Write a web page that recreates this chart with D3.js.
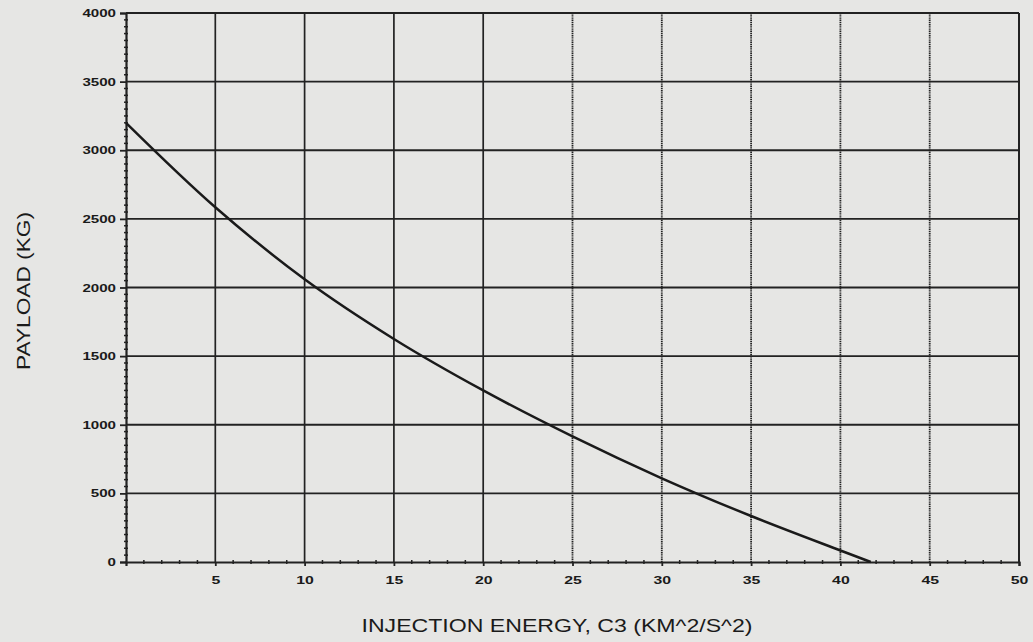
<!DOCTYPE html>
<html>
<head>
<meta charset="utf-8">
<script src="https://cdn.jsdelivr.net/npm/d3@7/dist/d3.min.js"></script>
<style>
  html, body { margin: 0; padding: 0; background: #e6e6e4; }
  svg { display: block; }
  text { font-family: "Liberation Sans", Arial, sans-serif; fill: #1a1a1a; }
</style>
</head>
<body>
<svg id="chart" width="1033" height="642"></svg>
<script>
// ---- data ----
const c3Values = [0, 5, 10, 15, 20, 25, 30, 35, 40, 41.7];
const payloadValues = [3200, 2585, 2060, 1625, 1250, 915, 610, 335, 84, 0];
const xTickValues = [5, 10, 15, 20, 25, 30, 35, 40, 45, 50];
const yTickValues = [0, 500, 1000, 1500, 2000, 2500, 3000, 3500, 4000];
const xTitle = "INJECTION ENERGY, C3 (KM^2/S^2)";
const yTitle = "PAYLOAD (KG)";

const svg = d3.select("#chart");
const pLeft = 126, pRight = 1019, pTop = 13, pBottom = 562;
const x = d3.scaleLinear().domain([0, 50]).range([pLeft, pRight]);
const y = d3.scaleLinear().domain([0, 4000]).range([pBottom, pTop]);
const ink = "#222";

// horizontal grid
svg.append("g").selectAll("line").data(yTickValues.filter(v => v > 0)).join("line")
  .attr("x1", pLeft).attr("x2", pRight)
  .attr("y1", d => y(d)).attr("y2", d => y(d))
  .attr("stroke", ink).attr("stroke-width", 1.8);

// vertical grid
svg.append("g").selectAll("line").data(xTickValues.filter(v => v < 50)).join("line")
  .attr("y1", pTop).attr("y2", pBottom)
  .attr("x1", d => x(d)).attr("x2", d => x(d))
  .attr("stroke", ink).attr("stroke-width", d => d >= 25 ? 1.8 : 1.7)
  .attr("stroke-dasharray", d => d >= 25 ? "1.4,0.8" : null);

// frame right/top
svg.append("line").attr("x1", pRight).attr("x2", pRight).attr("y1", pTop).attr("y2", pBottom)
  .attr("stroke", ink).attr("stroke-width", 2);
svg.append("line").attr("x1", pLeft).attr("x2", pRight).attr("y1", pTop).attr("y2", pTop)
  .attr("stroke", ink).attr("stroke-width", 2);

// y axis
const yAxis = d3.axisLeft(y).tickValues(yTickValues).tickSize(6).tickPadding(4)
  .tickFormat(d3.format("d"));
const gy = svg.append("g").attr("transform", `translate(${pLeft},0)`).call(yAxis);
gy.select(".domain").attr("stroke", ink).attr("stroke-width", 2.2);
gy.selectAll(".tick line").attr("stroke", ink).attr("stroke-width", 1.8);
gy.selectAll(".tick text")
  .attr("font-size", 11).attr("font-weight", "bold").attr("fill", "#1a1a1a")
  .attr("textLength", d => String(d).length * 8.4).attr("lengthAdjust", "spacingAndGlyphs");

// y minor ticks
const yMinor = d3.range(50, 4000, 50).filter(v => v % 500 !== 0);
svg.append("g").selectAll("line").data(yMinor).join("line")
  .attr("x1", pLeft - 2).attr("x2", pLeft + 2)
  .attr("y1", d => y(d)).attr("y2", d => y(d))
  .attr("stroke", ink).attr("stroke-width", 1.5);

// x axis
const xAxis = d3.axisBottom(x).tickValues(xTickValues).tickSize(4).tickPadding(10)
  .tickFormat(d3.format("d"));
const gx = svg.append("g").attr("transform", `translate(0,${pBottom})`).call(xAxis);
gx.select(".domain").attr("stroke", ink).attr("stroke-width", 2.2);
gx.selectAll(".tick line").attr("stroke", ink).attr("stroke-width", 1.8);
gx.selectAll(".tick text")
  .attr("font-size", 11).attr("font-weight", "bold").attr("fill", "#1a1a1a")
  .attr("textLength", d => String(d).length * 8.8).attr("lengthAdjust", "spacingAndGlyphs");

// x minor ticks
const xMinor = d3.range(1, 50, 1).filter(v => v % 5 !== 0);
svg.append("g").selectAll("line").data(xMinor).join("line")
  .attr("y1", pBottom - 2).attr("y2", pBottom + 2)
  .attr("x1", d => x(d)).attr("x2", d => x(d))
  .attr("stroke", ink).attr("stroke-width", 1.5);

// curve
const pts = c3Values.map((c, i) => [c, payloadValues[i]]);
const line = d3.line().x(d => x(d[0])).y(d => y(d[1])).curve(d3.curveCatmullRom.alpha(0.5));
svg.append("path").datum(pts).attr("d", line)
  .attr("fill", "none").attr("stroke", "#1a1a1a").attr("stroke-width", 2.5);

// titles
svg.append("text").attr("x", 557).attr("y", 632).attr("text-anchor", "middle")
  .attr("font-size", 18).attr("textLength", 391).attr("lengthAdjust", "spacingAndGlyphs")
  .text(xTitle);
svg.append("text").attr("transform", "translate(30,291) rotate(-90)")
  .attr("text-anchor", "middle").attr("font-size", 18)
  .attr("textLength", 158).attr("lengthAdjust", "spacingAndGlyphs")
  .text(yTitle);
</script>
</body>
</html>
